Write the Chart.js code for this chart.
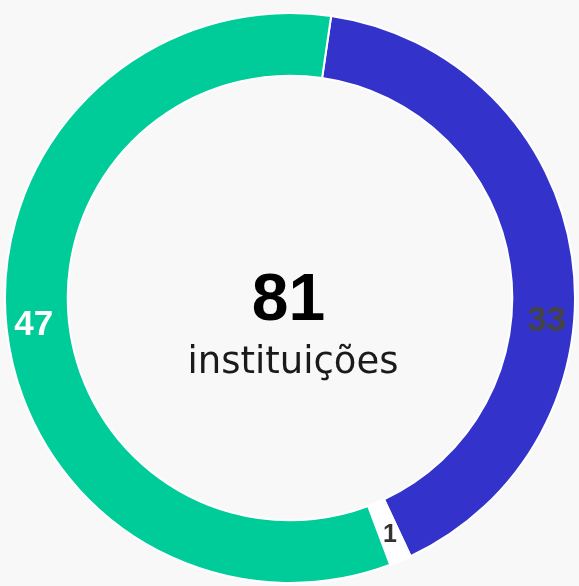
<!DOCTYPE html>
<html>
<head>
<meta charset="utf-8">
<script src="https://cdn.jsdelivr.net/npm/chart.js@4/dist/chart.umd.min.js"></script>
<style>
  html, body { margin: 0; padding: 0; background: #f8f8f8; }
  #wrap { width: 579px; height: 586px; position: relative; }
</style>
</head>
<body>
<div id="wrap"><canvas id="c"></canvas></div>
<script>
// ---- data ----
const categories = ["Categoria A", "Categoria B", "Categoria C"];
const values = [33, 1, 47];
const totalLabel = "81";
const centerSubtitle = "instituições";

// ---- styles ----
const segmentColors = ["#3333cc", "#ffffff", "#00cc99"];
const labelColors = ["#444444", "#333333", "#ffffff"];
const labelSizes = [35, 25, 35];
const labelAlong = [0.592, 0.5, 0.5];

const sliceLabels = {
  id: 'sliceLabels',
  afterDatasetsDraw(chart) {
    const ctx = chart.ctx;
    const meta = chart.getDatasetMeta(0);
    meta.data.forEach((arc, i) => {
      const p = arc.getProps(['x','y','startAngle','endAngle','innerRadius','outerRadius'], true);
      const a = p.startAngle + (p.endAngle - p.startAngle) * labelAlong[i];
      const r = (p.innerRadius + p.outerRadius) / 2 + 4;
      ctx.save();
      ctx.font = 'bold ' + labelSizes[i] + 'px "Liberation Sans", Arial, sans-serif';
      ctx.fillStyle = labelColors[i];
      ctx.textAlign = 'center';
      ctx.textBaseline = 'middle';
      ctx.fillText(String(values[i]), p.x + Math.cos(a) * r, p.y + Math.sin(a) * r);
      ctx.restore();
    });
  }
};

const centerText = {
  id: 'centerText',
  afterDraw(chart) {
    const ctx = chart.ctx;
    const arc = chart.getDatasetMeta(0).data[0];
    const cx = arc.x, cy = arc.y;
    ctx.save();
    ctx.textAlign = 'center';
    ctx.fillStyle = '#000000';
    ctx.font = 'bold 66px "Liberation Sans", Arial, sans-serif';
    ctx.textBaseline = 'alphabetic';
    ctx.fillText(totalLabel, cx - 1.5, cy + 22);
    ctx.fillStyle = '#1a1a1a';
    ctx.font = '37px "DejaVu Sans", sans-serif';
    ctx.fillText(centerSubtitle, cx + 3, cy + 75);
    ctx.restore();
  }
};

new Chart(document.getElementById('c'), {
  type: 'doughnut',
  data: {
    labels: categories,
    datasets: [{
      data: values,
      backgroundColor: segmentColors,
      borderColor: '#ffffff',
      borderWidth: 2,
      hoverOffset: 0
    }]
  },
  options: {
    responsive: true,
    maintainAspectRatio: false,
    animation: false,
    rotation: 8.3,
    cutout: '78%',
    layout: { padding: { left: 4, right: 3, top: 12, bottom: 2 } },
    plugins: { legend: { display: false }, tooltip: { enabled: false } }
  },
  plugins: [sliceLabels, centerText]
});
</script>
</body>
</html>
